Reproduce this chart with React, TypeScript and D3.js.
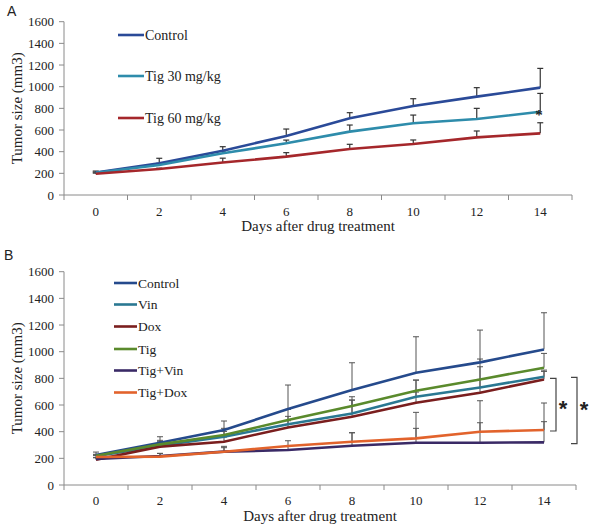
import React from "react";
import * as d3 from "d3";

const days = ["0", "2", "4", "6", "8", "10", "12", "14"];
const yTicks = [0, 200, 400, 600, 800, 1000, 1200, 1400, 1600];

// Panel A
const aNames = ["Control", "Tig 30 mg/kg", "Tig 60 mg/kg"];
const aControl = [207, 292, 409, 545, 708, 822, 908, 991];
const aControlErr = [14, 47, 37, 64, 52, 67, 83, 178];
const aTig30 = [205, 277, 385, 477, 585, 662, 701, 769];
const aTig30Err = [6, 15, 20, 30, 61, 76, 99, 169];
const aTig60 = [196, 240, 300, 354, 425, 471, 532, 569];
const aTig60Err = [6, 8, 40, 37, 43, 37, 59, 98];

// Panel B
const bNames = ["Control", "Vin", "Dox", "Tig", "Tig+Vin", "Tig+Dox"];
const bControl = [225, 317, 412, 570, 712, 842, 920, 1017];
const bControlErr = [22, 45, 68, 180, 205, 270, 242, 275];
const bVin = [215, 295, 362, 455, 537, 662, 732, 812];
const bVinErr = [10, 30, 40, 60, 100, 125, 155, 50];
const bDox = [190, 288, 325, 432, 512, 617, 692, 792];
const bDoxErr = [15, 25, 35, 50, 125, 80, 100, 60];
const bTig = [220, 305, 375, 487, 592, 707, 792, 880];
const bTigErr = [10, 30, 50, 80, 70, 80, 153, 107];
const bTigVin = [195, 217, 250, 262, 295, 317, 317, 320];
const bTigVinErr = [10, 20, 30, 30, 97, 108, 150, 155];
const bTigDox = [210, 213, 250, 292, 325, 350, 400, 412];
const bTigDoxErr = [10, 24, 40, 40, 67, 195, 232, 203];

const serif = '"Liberation Serif", "DejaVu Serif", "Times New Roman", serif';
const sans = '"Liberation Sans", Arial, sans-serif';

type Series = { name: string; values: number[]; err: number[]; color: string };

type PanelProps = {
  label: string;
  labelX: number;
  labelY: number;
  x0: number;
  x1: number;
  yBottom: number;
  yTop: number;
  series: Series[];
  legendX1: number;
  legendX2: number;
  legendYs: number[];
  legendFont: number;
  errColor: string;
  errWidth: number;
  xLabelY: number;
  xTitleY: number;
};

function Panel(p: PanelProps) {
  const x = d3.scaleBand<string>().domain(days).range([p.x0, p.x1]);
  const y = d3.scaleLinear().domain([0, 1600]).range([p.yBottom, p.yTop]);
  const cx = (d: string) => (x(d) as number) + x.bandwidth() / 2;
  const line = d3
    .line<number>()
    .x((_, i) => cx(days[i]))
    .y((v) => y(v));
  const axisColor = "#8a8a8a";
  const boundaries = days.map((d) => x(d) as number).concat([p.x1]);
  const serifStyle = { fontFamily: serif };
  return (
    <g>
      <text x={p.labelX} y={p.labelY} style={{ fontFamily: sans }} fontSize={14} fill="#222">
        {p.label}
      </text>
      {/* y axis */}
      <line x1={p.x0} x2={p.x0} y1={y(0)} y2={y(1600)} stroke={axisColor} strokeWidth={1} />
      {yTicks.map((t) => (
        <g key={t}>
          <line x1={p.x0 - 5} x2={p.x0} y1={y(t)} y2={y(t)} stroke={axisColor} />
          <text
            x={p.x0 - 10}
            y={y(t)}
            dy="0.35em"
            textAnchor="end"
            style={serifStyle}
            fontSize={13}
            fill="#222"
          >
            {t}
          </text>
        </g>
      ))}
      <text
        transform={`translate(22,${(p.yBottom + p.yTop) / 2}) rotate(-90)`}
        textAnchor="middle"
        style={serifStyle}
        fontSize={15}
        fill="#222"
      >
        Tumor size (mm3)
      </text>
      {/* x axis */}
      <line x1={p.x0} x2={p.x1} y1={y(0)} y2={y(0)} stroke={axisColor} />
      {boundaries.map((b, i) => (
        <line key={i} x1={b} x2={b} y1={y(0)} y2={y(0) + 5} stroke={axisColor} />
      ))}
      {days.map((d) => (
        <text
          key={d}
          x={cx(d)}
          y={p.xLabelY}
          textAnchor="middle"
          style={serifStyle}
          fontSize={13}
          fill="#222"
        >
          {d}
        </text>
      ))}
      <text
        x={(p.x0 + p.x1) / 2}
        y={p.xTitleY}
        textAnchor="middle"
        style={serifStyle}
        fontSize={15}
        fill="#222"
      >
        Days after drug treatment
      </text>
      {/* error bars */}
      {p.series.map((s) =>
        s.values.map((v, i) => {
          const xx = cx(days[i]);
          const top = y(v + s.err[i]);
          return (
            <g key={s.name + i}>
              <line x1={xx} x2={xx} y1={y(v)} y2={top} stroke={p.errColor} strokeWidth={p.errWidth} />
              <line x1={xx - 3} x2={xx + 3} y1={top} y2={top} stroke={p.errColor} strokeWidth={p.errWidth} />
            </g>
          );
        })
      )}
      {/* lines */}
      {p.series.map((s) => (
        <path key={s.name} d={line(s.values) || ""} fill="none" stroke={s.color} strokeWidth={2.6} />
      ))}
      {/* legend */}
      {p.series.map((s, i) => (
        <g key={"lg" + s.name}>
          <line
            x1={p.legendX1}
            x2={p.legendX2}
            y1={p.legendYs[i]}
            y2={p.legendYs[i]}
            stroke={s.color}
            strokeWidth={2.6}
          />
          <text
            x={p.legendX2 + 1}
            y={p.legendYs[i]}
            dy="0.35em"
            style={serifStyle}
            fontSize={p.legendFont}
            fill="#222"
          >
            {s.name}
          </text>
        </g>
      ))}
    </g>
  );
}

export default function App() {
  const seriesA: Series[] = [
    { name: aNames[0], values: aControl, err: aControlErr, color: "#2a4a98" },
    { name: aNames[1], values: aTig30, err: aTig30Err, color: "#2e8cab" },
    { name: aNames[2], values: aTig60, err: aTig60Err, color: "#a5272b" },
  ];
  const seriesB: Series[] = [
    { name: bNames[0], values: bControl, err: bControlErr, color: "#254a8c" },
    { name: bNames[1], values: bVin, err: bVinErr, color: "#2a7892" },
    { name: bNames[2], values: bDox, err: bDoxErr, color: "#7a1e1e" },
    { name: bNames[3], values: bTig, err: bTigErr, color: "#5a8a2c" },
    { name: bNames[4], values: bTigVin, err: bTigVinErr, color: "#3a2a66" },
    { name: bNames[5], values: bTigDox, err: bTigDoxErr, color: "#e2632c" },
  ];
  const yB = d3.scaleLinear().domain([0, 1600]).range([485, 271.7]);
  const yA = d3.scaleLinear().domain([0, 1600]).range([195, 21.7]);
  const bracket = (x: number, v1: number, v2: number, key: string) => (
    <path
      key={key}
      d={`M${x - 6},${yB(v1)} H${x} V${yB(v2)} H${x - 6}`}
      fill="none"
      stroke="#444"
      strokeWidth={1.2}
    />
  );
  return (
    <svg
      width={594}
      height={530}
      style={{ position: "absolute", left: 0, top: 0, background: "#fff" }}
    >
      <rect width={594} height={530} fill="#fff" />
      <Panel
        label="A"
        labelX={7}
        labelY={16}
        x0={64}
        x1={572}
        yBottom={195}
        yTop={21.7}
        series={seriesA}
        legendX1={118}
        legendX2={144}
        legendYs={[35, 76, 118]}
        legendFont={14}
        errColor="#333"
        errWidth={1.2}
        xLabelY={216}
        xTitleY={231}
      />
      <text
        x={539}
        y={yA(770)}
        dy="0.55em"
        textAnchor="middle"
        style={{ fontFamily: serif }}
        fontSize={15}
        fontWeight="bold"
        fill="#222"
      >
        *
      </text>
      <Panel
        label="B"
        labelX={4}
        labelY={260}
        x0={64}
        x1={576}
        yBottom={485}
        yTop={271.7}
        series={seriesB}
        legendX1={114}
        legendX2={137}
        legendYs={[283, 304.5, 326.5, 349, 370.5, 392.5]}
        legendFont={13.5}
        errColor="#555"
        errWidth={1}
        xLabelY={505}
        xTitleY={521}
      />
      {bracket(556, 800, 405, "b1")}
      {bracket(577, 808, 310, "b2")}
      <text x={563} y={416} textAnchor="middle" style={{ fontFamily: sans }} fontSize={22} fontWeight="bold" fill="#222">
        *
      </text>
      <text x={584} y={417} textAnchor="middle" style={{ fontFamily: sans }} fontSize={22} fontWeight="bold" fill="#222">
        *
      </text>
    </svg>
  );
}
